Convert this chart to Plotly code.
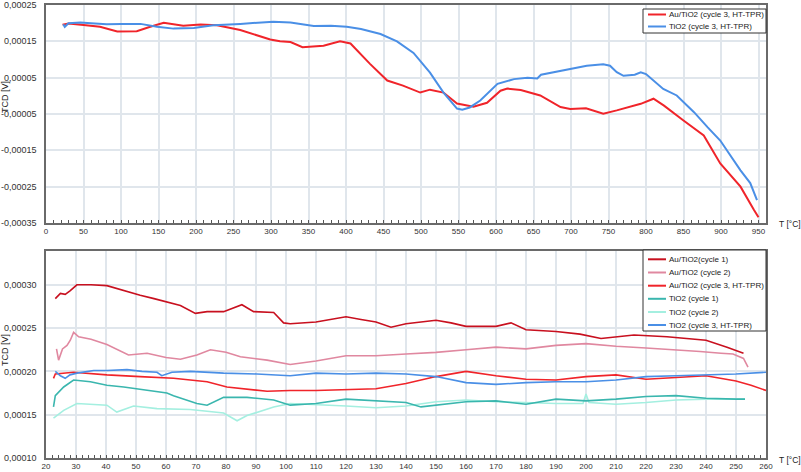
import plotly.graph_objects as go

# ---------------- data (top panel: HT-TPR, T in °C, TCD in V) ----------------
top_au3_T = [22, 30, 50, 72, 95, 121, 139, 157, 183, 206, 228, 259, 299, 312, 326, 342, 370, 392, 406,
             432, 455, 476, 499, 512, 530, 548, 570, 588, 606, 615, 633, 659, 686, 699, 720, 743, 761,
             793, 810, 824, 850, 877, 899, 926, 944, 950]
top_au3_V = [0.000196, 0.000199, 0.000195, 0.00019, 0.000177, 0.000178, 0.00019, 0.000201, 0.000193,
             0.000196, 0.000194, 0.000181, 0.000155, 0.00015, 0.000148, 0.000134, 0.000138, 0.00015,
             0.000144, 0.000088, 0.000042, 0.000028, 0.000009, 0.000017, 0.000009, -0.000021, -0.00003,
             -0.000019, 0.000014, 0.00002, 0.000016, 0.000001, -0.000031, -0.000036, -0.000034,
             -0.000049, -0.00004, -0.000022, -0.000008, -0.000027, -0.000068, -0.000109, -0.000186,
             -0.00025, -0.000314, -0.000334]

top_ti3_T = [23, 25, 30, 46, 60, 81, 100, 126, 148, 170, 197, 223, 259, 280, 303, 326, 357, 380, 401,
             420, 446, 468, 490, 512, 530, 548, 555, 565, 579, 602, 624, 642, 655, 660, 677, 700, 721,
             743, 752, 761, 770, 785, 793, 800, 823, 841, 850, 864, 882, 899, 926, 939, 948]
top_ti3_V = [0.000197, 0.00019, 0.0002, 0.000202, 0.0002, 0.000197, 0.000198, 0.000198, 0.00019,
             0.000185, 0.000187, 0.000194, 0.000198, 0.0002, 0.000204, 0.000202, 0.000192, 0.000193,
             0.00019, 0.000184, 0.00017, 0.00015, 0.000118, 0.000064, 0.000009, -0.000035, -0.000038,
             -0.000032, -0.000013, 0.000033, 0.000046, 0.00005, 0.000048, 0.000058, 0.000065, 0.000076,
             0.000083, 0.000087, 0.000083, 0.000065, 0.000055, 0.000058, 0.000065, 0.00006, 0.000019,
             0.000001, -0.000018, -0.000045, -0.000086, -0.000123, -0.000205, -0.00024, -0.000287]

# ---------------- data (bottom panel: cycles, T in °C) ----------------
au1_T = [23.1, 24, 24.8, 26.4, 28, 30.3, 35, 40.3, 45.9, 51.4, 56, 60.3, 64.8, 69.8, 73.7, 79.2, 85.3,
         89.2, 95.9, 99.2, 101.4, 110, 120, 125, 130, 135, 140, 150, 155, 160, 170, 175, 180, 190, 198,
         205, 216, 227, 240, 247, 252.5]
au1_V = [0.000284, 0.000287, 0.00029, 0.000289, 0.000293, 0.0003, 0.0003, 0.000299, 0.000293, 0.000288,
         0.000284, 0.00028, 0.000276, 0.000267, 0.000269, 0.000269, 0.000277, 0.000269, 0.000268,
         0.000256, 0.000255, 0.000257, 0.000263, 0.00026, 0.000257, 0.000251, 0.000255, 0.000259,
         0.000256, 0.000252, 0.000252, 0.000256, 0.000248, 0.000246, 0.000243, 0.000238, 0.000242,
         0.00024, 0.000236, 0.000228, 0.000221]

au2_T = [23.5, 24.2, 25.5, 27, 28.1, 29.2, 30.9, 35, 40.3, 47.5, 53.7, 60, 64.8, 70.3, 74.8, 80, 84.8,
         93.7, 101.4, 110, 120, 130, 140, 150, 160, 170, 180, 190, 200, 210, 220, 230, 238, 245, 249,
         252.5, 254]
au2_V = [0.000226, 0.000213, 0.000226, 0.00023, 0.000236, 0.000245, 0.00024, 0.000237, 0.000231,
         0.000219, 0.000221, 0.000216, 0.000214, 0.000219, 0.000225, 0.000222, 0.000217, 0.000213,
         0.000208, 0.000212, 0.000218, 0.000218, 0.00022, 0.000222, 0.000225, 0.000228, 0.000226,
         0.00023, 0.000232, 0.000229, 0.000227, 0.000225, 0.000223, 0.000221, 0.00022, 0.000215,
         0.000205]

au3_T = [22.5, 23.1, 29.2, 40.3, 51.4, 62.5, 73.7, 80.3, 93.7, 101.4, 110, 120, 130, 140, 150, 160,
         170, 180, 190, 200, 210, 220, 230, 240, 250, 255, 260]
au3_V = [0.000192, 0.000197, 0.000199, 0.000196, 0.000194, 0.000192, 0.000188, 0.000182, 0.000177,
         0.000178, 0.000178, 0.000179, 0.00018, 0.000186, 0.000194, 0.0002, 0.000195, 0.000191,
         0.00019, 0.000194, 0.000196, 0.000191, 0.000193, 0.000195, 0.000189, 0.000184, 0.000178]

ti1_T = [22.5, 23.1, 25.9, 29.2, 34.8, 40.3, 45.9, 51.4, 60.3, 62.5, 66, 70.3, 73.7, 79.2, 87, 95.9,
         101.4, 110, 120, 130, 140, 145, 150, 160, 170, 180, 190, 200, 210, 220, 230, 240, 250, 253]
ti1_V = [0.000159, 0.000172, 0.000182, 0.00019, 0.000188, 0.000184, 0.000182, 0.000179, 0.000175,
         0.000172, 0.000168, 0.000163, 0.000161, 0.00017, 0.00017, 0.000167, 0.000161, 0.000163,
         0.000168, 0.000166, 0.000164, 0.000159, 0.000161, 0.000165, 0.000166, 0.000162, 0.000168,
         0.000166, 0.000168, 0.000171, 0.000172, 0.000169, 0.000168, 0.000168]

ti2_T = [22.5, 25.9, 30.3, 34.8, 40.3, 43.6, 49.2, 57, 68.1, 79.2, 83.7, 87, 95.9, 101.4, 110, 120,
         130, 140, 150, 160, 170, 180, 190, 199, 200, 201, 210, 220, 230, 240, 250, 253]
ti2_V = [0.000146, 0.000155, 0.000163, 0.000162, 0.000161, 0.000153, 0.00016, 0.000157, 0.000156,
         0.000152, 0.000143, 0.000149, 0.000159, 0.000163, 0.000162, 0.00016, 0.000158, 0.00016,
         0.000165, 0.000167, 0.000165, 0.000164, 0.000163, 0.000163, 0.000174, 0.000164, 0.000162,
         0.000164, 0.000167, 0.000168, 0.000168, 0.000168]

ti3_T = [23.1, 24.8, 26.4, 28, 30.3, 35.9, 40.3, 47, 52, 57, 58.6, 62, 68.1, 79.2, 90.3, 101.4, 110,
         120, 130, 140, 150, 160, 170, 180, 190, 200, 210, 220, 230, 240, 250, 260]
ti3_V = [0.0002, 0.000195, 0.000192, 0.000196, 0.000198, 0.000201, 0.000201, 0.000202, 0.0002,
         0.000199, 0.000195, 0.000199, 0.0002, 0.000198, 0.000197, 0.000195, 0.000198, 0.000197,
         0.000198, 0.000197, 0.000194, 0.000187, 0.000185, 0.000187, 0.000188, 0.000188, 0.00019,
         0.000194, 0.000195, 0.000196, 0.000197, 0.000199]

top_x_ticks = [0, 50, 100, 150, 200, 250, 300, 350, 400, 450, 500, 550, 600, 650, 700, 750, 800, 850, 900, 950]
top_y_ticks = [0.00025, 0.00015, 0.00005, -0.00005, -0.00015, -0.00025, -0.00035]
top_y_text = ["0,00025", "0,00015", "0,00005", "-0,00005", "-0,00015", "-0,00025", "-0,00035"]
bot_x_ticks = list(range(20, 261, 10))
bot_y_ticks = [0.00010, 0.00015, 0.00020, 0.00025, 0.00030]
bot_y_text = ["0,00010", "0,00015", "0,00020", "0,00025", "0,00030"]

top_names = ["Au/TiO2 (cycle 3, HT-TPR)", "TiO2 (cycle 3, HT-TPR)"]
bot_names = ["Au/TiO2(cycle 1)", "Au/TiO2 (cycle 2)", "Au/TiO2 (cycle 3, HT-TPR)",
             "TiO2 (cycle 1)", "TiO2 (cycle 2)", "TiO2 (cycle 3, HT-TPR)"]

RED = "#f0242a"
BLUE = "#4a8fe6"
DRED = "#c8101f"
PINK = "#e088a0"
TEAL = "#3ab6ae"
LCYAN = "#a4efe0"

# ---------------- geometry ----------------
W, H = 801, 472
ML, MR, MT, MB = 46, 35, 5, 14
PW, PH = W - ML - MR, H - MT - MB


def px(xp):
    return (xp - ML) / PW


def py(yp):
    return 1 - (yp - MT) / PH


FONT = "Liberation Sans, Arial, sans-serif"
fig = go.Figure()

top_series = [(top_au3_T, top_au3_V, RED), (top_ti3_T, top_ti3_V, BLUE)]
for (t, v, c), n in zip(top_series, top_names):
    fig.add_trace(go.Scatter(x=t, y=v, mode="lines", name=n, line=dict(color=c, width=2),
                             xaxis="x", yaxis="y", showlegend=False))

bot_series = [(au1_T, au1_V, DRED), (au2_T, au2_V, PINK), (au3_T, au3_V, RED),
              (ti1_T, ti1_V, TEAL), (ti2_T, ti2_V, LCYAN), (ti3_T, ti3_V, BLUE)]
# draw order: light ones first
for idx in [4, 3, 1, 0, 2, 5]:
    t, v, c = bot_series[idx]
    fig.add_trace(go.Scatter(x=t, y=v, mode="lines", name=bot_names[idx], line=dict(color=c, width=1.6),
                             xaxis="x2", yaxis="y2", showlegend=False))

axis_common = dict(showline=True, linecolor="#6a6a6a", linewidth=1.5, mirror=True, automargin=False,
                   showgrid=True, gridcolor="#e0e6ec", gridwidth=1.5, zeroline=False,
                   ticklabeloverflow="allow")

fig.update_layout(
    width=W, height=H,
    margin=dict(l=ML, r=MR, t=MT, b=MB, autoexpand=False),
    paper_bgcolor="white", plot_bgcolor="white",
    font=dict(family=FONT, color="#333333"),
    xaxis=dict(domain=[0, 1], anchor="y", range=[0, 960], tickvals=top_x_ticks,
               ticks="inside", ticklen=3, tickcolor="#555", tickfont=dict(size=8),
               minor=dict(ticks="inside", ticklen=3, dtick=10, tick0=0, tickcolor="#555", showgrid=False),
               **axis_common),
    yaxis=dict(domain=[py(223), 1], anchor="x", range=[-0.00035, 0.00025],
               tickvals=top_y_ticks, ticktext=top_y_text, tickfont=dict(size=9),
               ticklabelstandoff=6, **axis_common),
    xaxis2=dict(domain=[0, 1], anchor="y2", range=[20, 260], tickvals=bot_x_ticks,
                ticks="inside", ticklen=3, tickcolor="#555", tickfont=dict(size=8),
                minor=dict(ticks="inside", ticklen=3, dtick=2, tick0=20, tickcolor="#555", showgrid=False),
                **axis_common),
    yaxis2=dict(domain=[0, py(251)], anchor="x2", range=[0.0001, 0.000339],
                tickvals=bot_y_ticks, ticktext=bot_y_text, tickfont=dict(size=9),
                ticklabelstandoff=6, **axis_common),
    showlegend=False,
)

ann = []
shapes = []
# axis titles
for ycen in [97, 350]:
    ann.append(dict(x=px(5), y=py(ycen), xref="paper", yref="paper", text="TCD [V]", textangle=-90,
                    showarrow=False, font=dict(size=9, color="#222"), xanchor="center", yanchor="middle"))
for ycen in [224.5, 460]:
    ann.append(dict(x=px(777), y=py(ycen), xref="paper", yref="paper", text="T [°C]",
                    showarrow=False, font=dict(size=8.5, color="#222"), xanchor="left", yanchor="middle"))


def legend_box(x0, x1, y0, y1, rows):
    shapes.append(dict(type="rect", xref="paper", yref="paper", x0=px(x0), x1=px(x1),
                       y0=py(y1), y1=py(y0), line=dict(color="#333", width=1), fillcolor="white",
                       layer="above"))
    for yc, color, name in rows:
        shapes.append(dict(type="line", xref="paper", yref="paper", x0=px(648), x1=px(666),
                           y0=py(yc), y1=py(yc), line=dict(color=color, width=2), layer="above"))
        ann.append(dict(x=px(667), y=py(yc), xref="paper", yref="paper", text=name, showarrow=False,
                        xanchor="left", yanchor="middle", font=dict(size=8, color="#222")))


legend_box(643, 766, 9, 33, [(14.5, RED, top_names[0]), (26.5, BLUE, top_names[1])])
bot_colors = [DRED, PINK, RED, TEAL, LCYAN, BLUE]
bot_rows_y = [259.3, 272.5, 285.7, 298.8, 312, 325]
legend_box(643, 766, 250, 331, list(zip(bot_rows_y, bot_colors, bot_names)))

fig.update_layout(annotations=ann, shapes=shapes)
fig.write_html("out.html", config={"displayModeBar": False},
               post_script="document.body.style.margin='0';document.body.style.padding='0';"
                           "document.body.style.overflow='hidden';")
